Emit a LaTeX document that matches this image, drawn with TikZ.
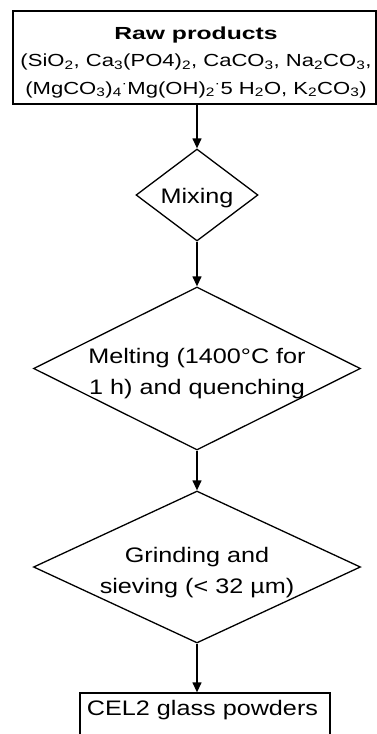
\documentclass[tikz,border=0pt]{standalone}
\usepackage{fontspec}
\setmainfont{Liberation Sans}
\newfontfamily\headfont[FakeStretch=1.26]{Liberation Sans}
\newfontfamily\headboldfont[FakeStretch=1.41]{Liberation Sans Bold}
\newfontfamily\stepfont[FakeStretch=1.2]{Liberation Sans}
\usetikzlibrary{shapes.geometric,arrows.meta}
\tikzset{
  outline/.style={draw=black, line width=1.3pt},
  procbox/.style={outline, rectangle, inner sep=0pt},
  decision/.style={outline, diamond, inner sep=0pt},
  steptext/.style={align=center, inner sep=0pt,
    font=\stepfont\fontsize{21}{31}\selectfont},
  flow/.style={line width=1.3pt, -{Triangle[length=10pt,width=9pt]}},
}
\begin{document}
\begin{tikzpicture}[x=1pt,y=-1pt]
  \useasboundingbox (0,0) rectangle (377,734);
  \clip (0,0) rectangle (377,734);

  % starting materials
  \node[procbox, minimum width=363, minimum height=93] (raw) at (194.5,57.5) {};
  \node[align=center, inner sep=0pt, font=\headfont\fontsize{17.5}{27.5}\selectfont]
    (rawtext) at (196,62)
    {{\headboldfont Raw products}\\
     (SiO\textsubscript{2}, Ca\textsubscript{3}(PO4)\textsubscript{2}, CaCO\textsubscript{3}, Na\textsubscript{2}CO\textsubscript{3},\\
     (MgCO\textsubscript{3})\textsubscript{4}\textsuperscript{·}Mg(OH)\textsubscript{2}\textsuperscript{·}5 H\textsubscript{2}O, K\textsubscript{2}CO\textsubscript{3})};

  % process steps
  \node[decision, minimum width=122, minimum height=92] (mix) at (197,195) {};
  \node[steptext] (mixtext) at (197,198) {Mixing};

  \node[decision, minimum width=327, minimum height=163] (melt) at (197,368.5) {};
  \node[steptext] (melttext) at (197,374) {Melting (1400°C for\\1 h) and quenching};

  \node[decision, minimum width=327, minimum height=152] (grind) at (197,567) {};
  \node[steptext] (grindtext) at (197,573) {Grinding and\\sieving (< 32 µm)};

  % product
  \node[procbox, minimum width=250, minimum height=60] (cel) at (205,723) {};
  \node[steptext] (celtext) at (202.5,710) {CEL2 glass powders};

  % connectors
  \draw[flow] (raw.south -| mix.north) -- (mix.north);
  \draw[flow] (mix.south) -- (melt.north);
  \draw[flow] (melt.south) -- (grind.north);
  \draw[flow] (grind.south) -- (grind.south |- cel.north);
\end{tikzpicture}
\end{document}
